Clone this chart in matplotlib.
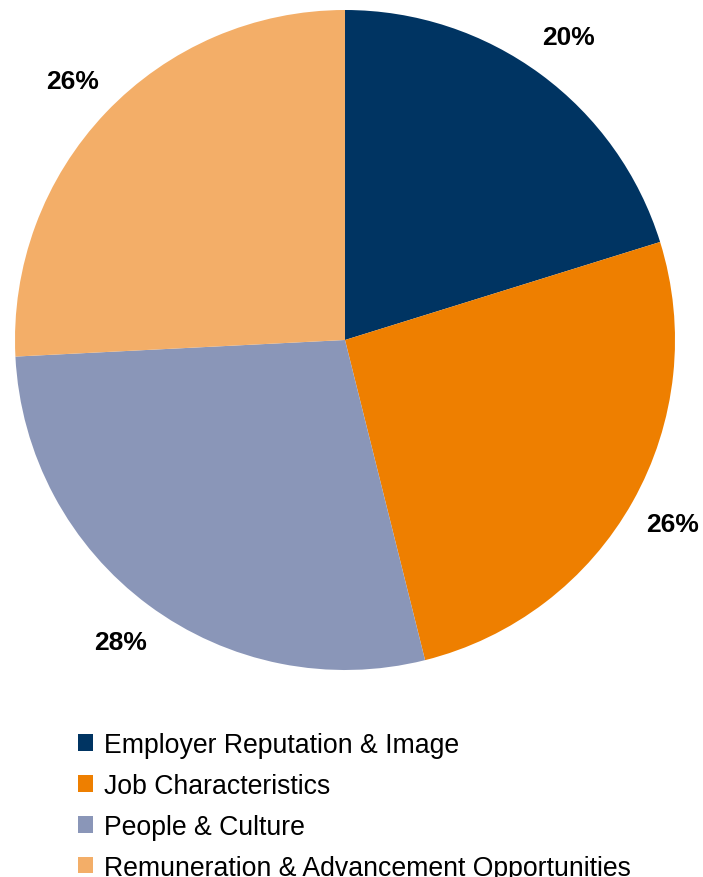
import matplotlib.pyplot as plt

plt.rcParams['font.family'] = ['Liberation Sans', 'DejaVu Sans']

# data (clockwise from 12 o'clock)
categories = ["Employer Reputation & Image", "Job Characteristics",
              "People & Culture", "Remuneration & Advancement Opportunities"]
shares = [20.2, 25.9, 28.1, 25.8]
colors = ["#003462", "#EE7F00", "#8A96B8", "#F3AE68"]

fig = plt.figure(figsize=(7.03, 8.78), dpi=100)

# pie centred at (345, 341) px with radius ~330 px
W, H = 703, 878
cx, cy, r = 345, 341, 330
ax = fig.add_axes([(cx - r) / W, (H - cy - r) / H, 2 * r / W, 2 * r / H])

wedges, texts, autotexts = ax.pie(
    shares, colors=colors, startangle=90, counterclock=False,
    autopct='%.0f%%', pctdistance=1.14,
    textprops=dict(fontsize=19, fontweight='bold', color='black'))
ax.set_xlim(-1, 1)
ax.set_ylim(-1, 1)
ax.set_aspect('equal')

# legend below the pie
leg = fig.legend(wedges, categories, loc='upper left',
                 bbox_to_anchor=(78 / W, 1 - 733 / H),
                 frameon=False, fontsize=19.2,
                 handlelength=0.56, handleheight=0.56,
                 handletextpad=0.41, labelspacing=0.56,
                 borderpad=0, borderaxespad=0)

fig.savefig("out.png", dpi=100)
